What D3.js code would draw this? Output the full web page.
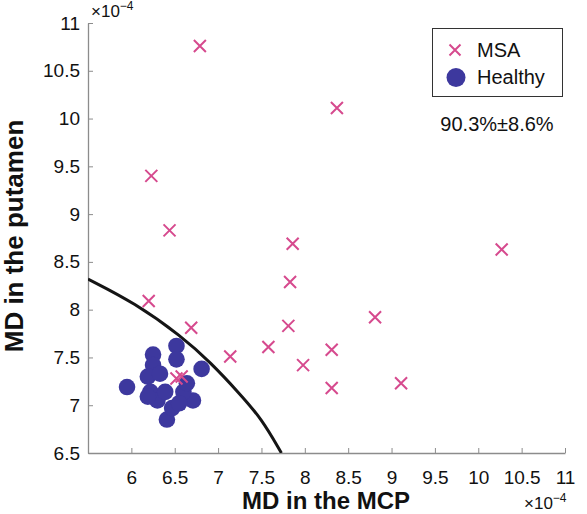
<!DOCTYPE html>
<html><head><meta charset="utf-8">
<script src="https://cdn.jsdelivr.net/npm/d3@7"></script>
<style>body{margin:0;background:#fff}text{font-family:"Liberation Sans",Arial,sans-serif}</style>
</head><body>
<svg id="c" width="587" height="514"></svg>
<script>
// values in units of 1e-4
const msaX = [6.79, 8.37, 6.23, 6.44, 7.86, 7.83, 6.20, 6.69, 7.81, 8.81, 10.27, 7.14, 7.58, 8.31, 7.98, 8.31, 9.11, 6.52, 6.58];
const msaY = [10.76, 10.11, 9.40, 8.83, 8.69, 8.29, 8.09, 7.81, 7.83, 7.92, 8.63, 7.51, 7.61, 7.58, 7.42, 7.18, 7.23, 7.28, 7.30];
const healthyX = [5.95, 6.25, 6.25, 6.52, 6.52, 6.81, 6.19, 6.22, 6.30, 6.41, 6.47, 6.71, 6.60, 6.39, 6.33, 6.64, 6.19, 6.55];
const healthyY = [7.19, 7.53, 7.42, 7.62, 7.48, 7.38, 7.30, 7.14, 7.05, 6.85, 6.97, 7.05, 7.14, 7.14, 7.33, 7.23, 7.09, 7.02];
const boundaryX = [5.5, 6.04, 6.58, 6.91, 7.25, 7.50, 7.73];
const boundaryY = [8.32, 8.07, 7.72, 7.45, 7.12, 6.86, 6.5];
const xTicks = [6, 6.5, 7, 7.5, 8, 8.5, 9, 9.5, 10, 10.5, 11];
const yTicks = [6.5, 7, 7.5, 8, 8.5, 9, 9.5, 10, 10.5, 11];
const seriesNames = ["MSA", "Healthy"];
const accuracyText = "90.3%±8.6%";

const msaColor = "#d64a8e", healthyColor = "#3d389e";
const svg = d3.select("#c");
const L = 88, R = 565, T = 23, B = 453;
const x = d3.scaleLinear().domain([5.5, 11]).range([L, R]);
const y = d3.scaleLinear().domain([6.5, 11]).range([B, T]);
const fmt = d => String(d);

svg.append("defs").append("clipPath").attr("id","clip")
  .append("rect").attr("x",L).attr("y",T).attr("width",R-L).attr("height",B-T);

const gx = svg.append("g").attr("transform",`translate(0,${B})`)
  .call(d3.axisBottom(x).tickValues(xTicks).tickFormat(fmt).tickSize(-5).tickSizeOuter(0).tickPadding(18));
const gy = svg.append("g").attr("transform",`translate(${L},0)`)
  .call(d3.axisLeft(y).tickValues(yTicks).tickFormat(fmt).tickSize(-5).tickSizeOuter(0).tickPadding(8));
[gx, gy].forEach(g => {
  g.select(".domain").attr("stroke","#8c8c8c").attr("stroke-width",1.3);
  g.selectAll(".tick line").attr("stroke","#8c8c8c");
  g.selectAll(".tick text").attr("fill","#111").style("font-size","19px").style("font-family",'"Liberation Sans",Arial,sans-serif');
});

// boundary
const line = d3.line().x((d,i)=>x(boundaryX[i])).y((d,i)=>y(boundaryY[i])).curve(d3.curveBasis);
svg.append("path").datum(boundaryX).attr("d", line).attr("fill","none")
  .attr("stroke","#151515").attr("stroke-width",3).attr("clip-path","url(#clip)");

// healthy
svg.append("g").selectAll("circle").data(healthyX).join("circle")
  .attr("cx",(d,i)=>x(d)).attr("cy",(d,i)=>y(healthyY[i])).attr("r",8.3)
  .attr("fill",healthyColor);

// MSA crosses
const cs = 6;
function cross(g, cx, cy, s){
  g.append("path").attr("d",`M${cx-s},${cy-s}L${cx+s},${cy+s}M${cx-s},${cy+s}L${cx+s},${cy-s}`)
   .attr("stroke",msaColor).attr("stroke-width",2).attr("fill","none");
}
const gm = svg.append("g");
msaX.forEach((d,i)=>cross(gm, x(d), y(msaY[i]), cs));

// exponent labels
function expo(tx, ty){
  const t = svg.append("text").attr("x",tx).attr("y",ty).attr("fill","#111").style("font-size","17px");
  t.append("tspan").text("×10");
  t.append("tspan").attr("dy",-7).style("font-size","12px").text("−4");
}
expo(91, 17);
expo(524, 509);

// axis titles
svg.append("text").attr("x",326).attr("y",509).attr("text-anchor","middle")
  .style("font-size","24px").style("font-weight","bold").attr("fill","#111").text("MD in the MCP");
svg.append("text").attr("transform","translate(23,236) rotate(-90)").attr("text-anchor","middle")
  .style("font-size","26px").style("font-weight","bold").attr("fill","#111").text("MD in the putamen");

// legend
svg.append("rect").attr("x",432.5).attr("y",28.5).attr("width",130).attr("height",68)
  .attr("fill","#fff").attr("stroke","#333").attr("stroke-width",1);
cross(svg, 455, 50, 5.5);
svg.append("circle").attr("cx",456).attr("cy",77.5).attr("r",9.5).attr("fill",healthyColor);
svg.append("text").attr("x",477).attr("y",57).style("font-size","20px").attr("fill","#111").text(seriesNames[0]);
svg.append("text").attr("x",477).attr("y",84).style("font-size","20px").attr("fill","#111").text(seriesNames[1]);
svg.append("text").attr("x",497).attr("y",131).attr("text-anchor","middle").style("font-size","20px").attr("fill","#111").text(accuracyText);
</script>
</body></html>
